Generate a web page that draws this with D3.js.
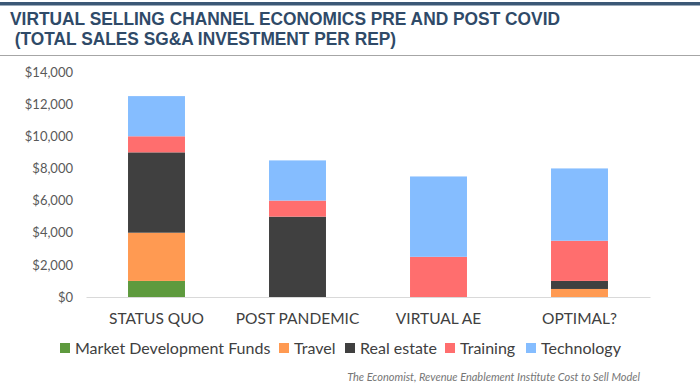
<!DOCTYPE html>
<html>
<head>
<meta charset="utf-8">
<script src="https://cdn.jsdelivr.net/npm/d3@7"></script>
<style>
  html, body { margin: 0; padding: 0; background: #fff; }
  svg { display: block; }
</style>
</head>
<body>
<svg id="chart" width="700" height="391"></svg>
<script>
const categories = ["STATUS QUO", "POST PANDEMIC", "VIRTUAL AE", "OPTIMAL?"];
const seriesNames = ["Market Development Funds", "Travel", "Real estate", "Training", "Technology"];
const marketDevelopmentFunds = [1000, 0, 0, 0];
const travel = [3000, 0, 0, 500];
const realEstate = [5000, 5000, 0, 500];
const training = [1000, 1000, 2500, 2500];
const technology = [2500, 2500, 5000, 4500];
const yTicks = [0, 2000, 4000, 6000, 8000, 10000, 12000, 14000];
const colors = ["#5e9a3e", "#ff9a52", "#404040", "#ff6e6e", "#85bdff"];
const titleLines = ["VIRTUAL SELLING CHANNEL ECONOMICS PRE AND POST COVID", " (TOTAL SALES SG&A INVESTMENT PER REP)"];
const sourceText = "The Economist, Revenue Enablement Institute Cost to Sell Model";

const svg = d3.select("#chart");
const W = 700;

// header
svg.append("rect").attr("x", 0).attr("y", 2).attr("width", W).attr("height", 3.5).attr("fill", "#3b5876");
svg.append("line").attr("x1", 0).attr("x2", W).attr("y1", 55.5).attr("y2", 55.5)
  .attr("stroke", "#a6a6a6").attr("stroke-width", 1.2);
const titleFont = "'Liberation Sans Narrow', 'Arial Narrow', 'Liberation Sans', Arial, sans-serif";
svg.append("text").attr("x", 10).attr("y", 25).text(titleLines[0])
  .attr("font-family", titleFont).attr("font-weight", "bold").attr("font-size", 17.5)
  .attr("fill", "#2f4a68").attr("textLength", 550).attr("lengthAdjust", "spacingAndGlyphs");
svg.append("text").attr("x", 10).attr("y", 44.5).attr("xml:space", "preserve").text(titleLines[1])
  .attr("font-family", titleFont).attr("font-weight", "bold").attr("font-size", 17.5)
  .attr("fill", "#2f4a68").attr("textLength", 386).attr("lengthAdjust", "spacingAndGlyphs");

// data
const rows = categories.map((c, i) => ({
  cat: c,
  "Market Development Funds": marketDevelopmentFunds[i],
  "Travel": travel[i],
  "Real estate": realEstate[i],
  "Training": training[i],
  "Technology": technology[i]
}));
const stacked = d3.stack().keys(seriesNames)(rows);

const x = d3.scaleBand().domain(categories).range([86, 650]).paddingInner(0.596).paddingOuter(0.298);
const y = d3.scaleLinear().domain([0, 14000]).range([297, 72]);
const color = d3.scaleOrdinal().domain(seriesNames).range(colors);

const font = "Lato, 'Open Sans', sans-serif";

// y axis labels
const yAxis = d3.axisLeft(y).tickValues(yTicks).tickSize(0).tickPadding(0)
  .tickFormat(d => "$" + d3.format(",")(d));
const yg = svg.append("g").attr("transform", "translate(73,0)").call(yAxis);
yg.select(".domain").remove();
yg.selectAll("text").attr("font-family", font).attr("font-size", 13).attr("fill", "#595959");

// bars
svg.append("g").selectAll("g").data(stacked).join("g")
  .attr("fill", d => color(d.key))
  .selectAll("rect").data(d => d).join("rect")
  .attr("x", d => x(d.data.cat))
  .attr("width", x.bandwidth())
  .attr("y", d => y(d[1]))
  .attr("height", d => y(d[0]) - y(d[1]));

// x axis
const xAxis = d3.axisBottom(x).tickSize(0).tickPadding(16);
const xg = svg.append("g").attr("transform", "translate(0,297)").call(xAxis);
xg.select(".domain").attr("stroke", "#d9d9d9").attr("stroke-width", 1.2);
xg.selectAll("text").attr("font-family", font).attr("font-size", 15.5).attr("fill", "#404040");

// legend
const legendItems = [
  {name: seriesNames[0], sx: 60},
  {name: seriesNames[1], sx: 279},
  {name: seriesNames[2], sx: 345},
  {name: seriesNames[3], sx: 445},
  {name: seriesNames[4], sx: 526}
];
const lg = svg.append("g");
const li = lg.selectAll("g").data(legendItems).join("g");
li.append("rect").attr("x", d => d.sx).attr("y", 343).attr("width", 10).attr("height", 10)
  .attr("fill", d => color(d.name));
li.append("text").attr("x", d => d.sx + 15).attr("y", 354).text(d => d.name)
  .attr("font-family", font).attr("font-size", 16).attr("fill", "#404040");

// source
svg.append("text").attr("x", 640).attr("y", 381).attr("text-anchor", "end").text(sourceText)
  .attr("font-family", font).attr("font-style", "italic").attr("font-size", 11).attr("fill", "#767676");
</script>
</body>
</html>
